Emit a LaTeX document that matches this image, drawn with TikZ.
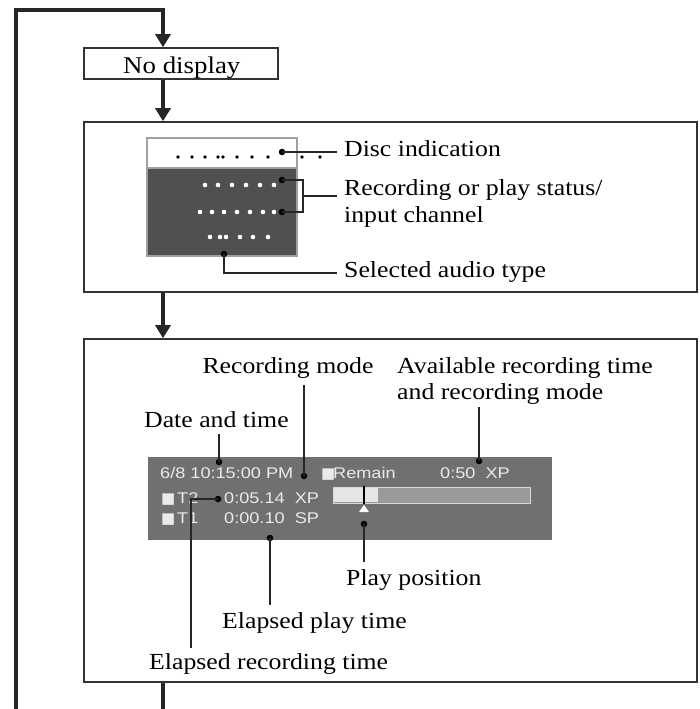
\documentclass[tikz,border=0pt]{standalone}
\usepackage{fontspec}
\setmainfont{Liberation Serif}[FakeStretch=1.12]
\newfontfamily\lcdfont{Liberation Sans}[FakeStretch=1.17]
\newfontfamily\symfont{DejaVu Sans}
\usetikzlibrary{arrows.meta}
\definecolor{panelgray}{HTML}{707070}
\definecolor{lcddark}{HTML}{505050}
\definecolor{lcdtext}{HTML}{EAEAEA}
\definecolor{rimgray}{HTML}{A0A0A0}
\begin{document}
\begin{tikzpicture}[x=1pt,y=-1pt,
  box/.style={draw=black!80,line width=1.6pt,inner sep=0pt,fill=white},
  flow/.style={line width=3.4pt,black!85,line join=miter},
  flowarr/.style={flow,-{Triangle[width=15pt,length=13pt]}},
  lead/.style={line width=1.7pt,black!85},
  ldot/.style={circle,fill=black,inner sep=0pt,minimum size=6.5pt},
  wdot/.style={fill=white},
  bdot/.style={fill=black},
  lbl/.style={font=\fontsize{23}{27}\selectfont,inner sep=0pt,anchor=base west},
  lcd/.style={font=\lcdfont\fontsize{15.5}{18}\selectfont,text=lcdtext,inner sep=0pt,anchor=base west},
  sq/.style={font=\symfont\fontsize{15}{15}\selectfont,text=lcdtext,inner sep=0pt,anchor=base west}]
\useasboundingbox (0,0) rectangle (699,709);
% axis of the flow
\coordinate (axis) at (163,0);
\coordinate (lt) at (16,10);
\coordinate (lb) at (16,709);
\coordinate (ta) at (163,10);
\coordinate (ba) at (163,709);
% boxes
\node[box,minimum width=194pt,minimum height=31pt] (nodisp) at (181,63.5) {};
\node[lbl,font=\fontsize{24}{28}\selectfont] (nodisptxt) at (123,74) {No display};
\node[box,minimum width=613pt,minimum height=170pt] (box2) at (390.5,207) {};
\node[box,minimum width=613pt,minimum height=343pt] (box3) at (390.5,510.5) {};
% flow connectors
\draw[flowarr] (lb) -- (lt) -- (ta) -- (nodisp.north -| axis);
\draw[flowarr] (nodisp.south -| axis) -- (box2.north -| axis);
\draw[flowarr] (box2.south -| axis) -- (box3.north -| axis);
\draw[flow] (box3.south -| axis) -- (ba);
% ---- box 2: front panel display
\draw[draw=rimgray,line width=2pt,fill=lcddark] (147,138) rectangle (297,256);
\draw[draw=rimgray,line width=2pt,fill=white] (147,138) rectangle (297,168);
\foreach \x in {178,192,205,218,223,237,252,268,302,320}
  \fill[bdot] (\x,157) circle (1.8pt);
\foreach \x in {205,218,232,246,260,274}
  \fill[wdot] (\x,185) circle (2.3pt);
\foreach \x in {200,212,224,237,250,263,274}
  \fill[wdot] (\x,212) circle (2.3pt);
\foreach \x in {210,220,226,240,253,268}
  \fill[wdot] (\x,237) circle (2.3pt);
\node[ldot] (d1) at (282,152) {};
\node[ldot] (d2) at (282,180) {};
\node[ldot] (d3) at (282,212) {};
\node[ldot] (d4) at (224,254) {};
\node[lbl] (disc) at (344,156) {Disc indication};
\node[lbl] (recst) at (344,195) {Recording or play status/};
\node[lbl] (inch) at (344,222) {input channel};
\node[lbl] (audio) at (344,277) {Selected audio type};
\coordinate (e1) at (337,152);
\coordinate (br) at (303,196);
\coordinate (e2) at (337,196);
\coordinate (e4) at (337,273);
\draw[lead] (d1.center) -- (e1);
\draw[lead] (d2.center) -- (303,180) -- (303,212) -- (d3.center);
\draw[lead] (br) -- (e2);
\draw[lead] (d4.center) -- (224,273) -- (e4);
% ---- box 3: on-screen display
\fill[panelgray] (148,457) rectangle (552,540);
\node[lcd] (t1) at (160,478) {6/8 10:15:00 PM};
\node[sq] (s0) at (321,478) {■};
\node[lcd] (t2) at (333,478) {Remain};
\node[lcd] (t3) at (440,478) {0:50\ \ XP};
\node[sq] (s1) at (161,503) {■};
\node[lcd] (t4) at (177,503) {T2};
\node[lcd] (t5) at (224,503) {0:05.14\ \ XP};
\node[sq] (s2) at (161,523) {■};
\node[lcd] (t6) at (177,523) {T1};
\node[lcd] (t7) at (224,523) {0:00.10\ \ SP};
% progress bar
\draw[draw=black!15,line width=1pt,fill=black!40] (333,487) rectangle (530,503);
\fill[black!10] (334,488) rectangle (378,502);
\draw[line width=1.5pt,black] (364,486) -- (364,504);
\fill[white] (364,505) -- (369,512) -- (359,512) -- cycle;
% labels
\node[lbl,anchor=base] (recmode) at (288,373) {Recording mode};
\node[lbl] (avail1) at (397,373) {Available recording time};
\node[lbl] (avail2) at (397,399) {and recording mode};
\node[lbl] (date) at (144,427) {Date and time};
\node[lbl] (playpos) at (346,585) {Play position};
\node[lbl] (eplay) at (222,628) {Elapsed play time};
\node[lbl] (erec) at (149,669) {Elapsed recording time};
% leader dots
\node[ldot] (pdate) at (219,462) {};
\node[ldot] (pmode) at (304,476) {};
\node[ldot] (pavail) at (479,461) {};
\node[ldot] (pt2) at (218,499) {};
\node[ldot] (pplay) at (270,538) {};
\node[ldot] (ppos) at (364,524) {};
\coordinate (qdate) at (219,434);
\coordinate (qmode) at (304,385);
\coordinate (qavail) at (479,407);
\coordinate (qrec) at (191,648);
\coordinate (qplay) at (270,605);
\coordinate (qpos) at (364,562);
\draw[lead] (qdate) -- (pdate.center);
\draw[lead] (qmode) -- (pmode.center);
\draw[lead] (qavail) -- (pavail.center);
\draw[lead] (pt2.center) -- (191,499) -- (qrec);
\draw[lead] (pplay.center) -- (qplay);
\draw[lead] (ppos.center) -- (qpos);
\end{tikzpicture}
\end{document}
